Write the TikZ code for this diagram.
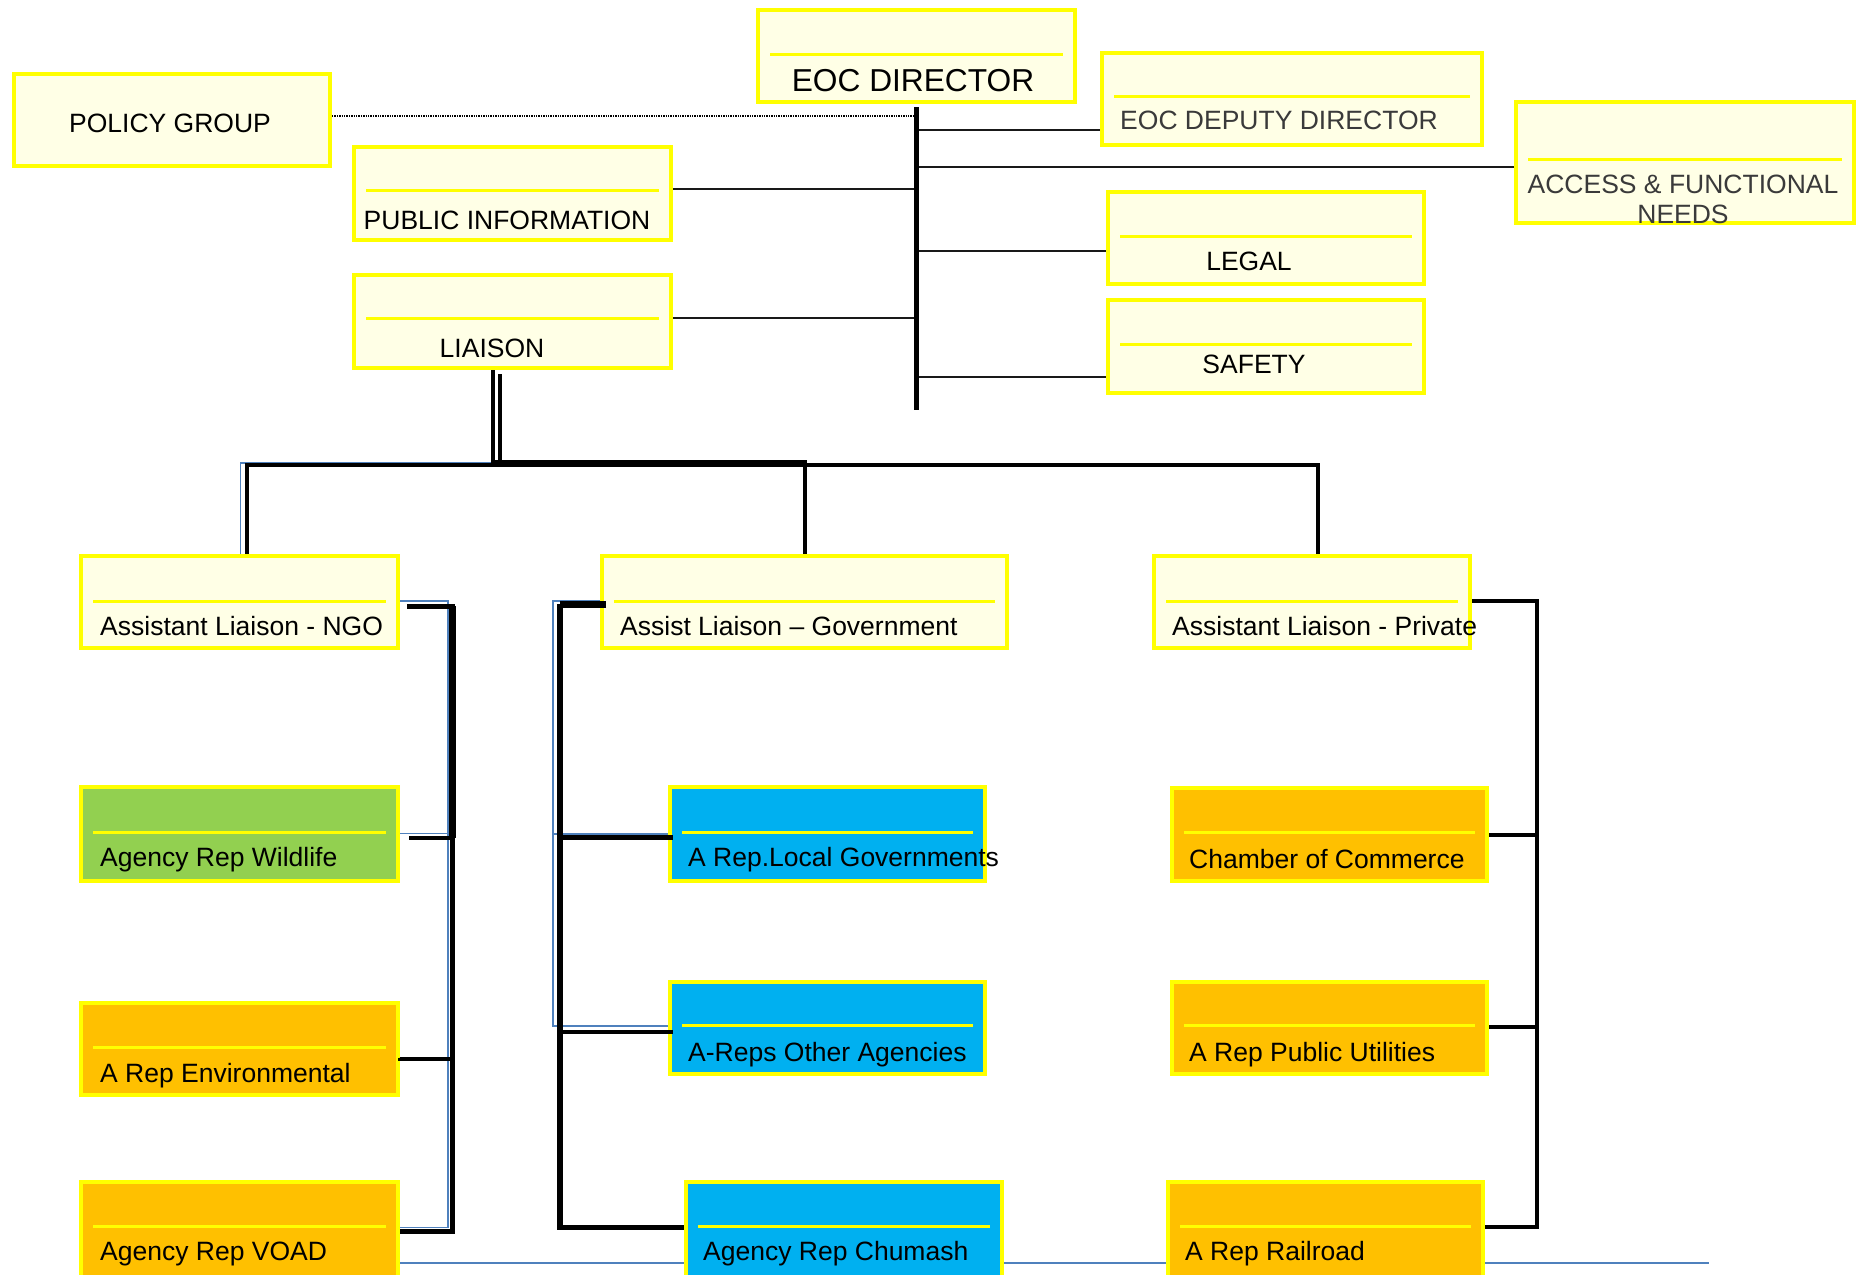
\documentclass[tikz,border=0pt]{standalone}
\usepackage{fontspec}
\setmainfont{Liberation Sans}
\usetikzlibrary{fit}
\definecolor{boxfill}{HTML}{FFFFE6}
\definecolor{ybord}{HTML}{FFFF00}
\definecolor{grn}{HTML}{92D050}
\definecolor{org}{HTML}{FFC000}
\definecolor{blu}{HTML}{00B0F0}
\definecolor{lnblue}{HTML}{4F81BD}
\definecolor{dgray}{HTML}{3A3A3A}
\tikzset{
  boxst/.style={rectangle, draw=ybord, line width=4pt, fill=boxfill, inner sep=0pt},
  yline/.style={draw=ybord, line width=3pt},
  lbl/.style={anchor=base west, inner sep=0pt, font=\fontsize{26.5}{30}\selectfont},
  clbl/.style={lbl, anchor=base},
  conn/.style={draw=black!90, line width=2.5pt},
  bconn/.style={draw=lnblue, line width=1.8pt},
  dotln/.style={draw=black, line width=1.3pt, dash pattern=on 1.3pt off 1.1pt},
}
\newcommand\obox[6]{\node[boxst, fill=#6, fit={(#2+2,#3+2) (#4-2,#5-2)}] (#1) {};}
\newcommand\iline[2]{\draw[yline] ([xshift=14pt,yshift=-#2pt]#1.north west) -- ([xshift=-14pt,yshift=-#2pt]#1.north east);}
\begin{document}
\begin{tikzpicture}[x=1pt,y=-1pt]
\useasboundingbox (0,0) rectangle (1860,1274);

\coordinate (bend) at (1709,1263);

% ---------- boxes ----------
\obox{pg}{12}{72}{332}{168}{boxfill}
\obox{eoc}{756}{8}{1077}{104}{boxfill}
\obox{dep}{1100}{51}{1484}{147}{boxfill}
\obox{afn}{1514}{100}{1856}{225}{boxfill}
\obox{pub}{352}{145}{673}{242}{boxfill}
\obox{lia}{352}{273}{673}{370}{boxfill}
\obox{leg}{1106}{190}{1426}{286}{boxfill}
\obox{saf}{1106}{298}{1426}{395}{boxfill}
\obox{ngo}{79}{554}{400}{650}{boxfill}
\obox{gov}{600}{554}{1009}{650}{boxfill}
\obox{pri}{1152}{554}{1472}{650}{boxfill}
\obox{wil}{79}{785}{400}{883}{grn}
\obox{env}{79}{1001}{400}{1097}{org}
\obox{loc}{668}{785}{987}{883}{blu}
\obox{oth}{668}{980}{987}{1076}{blu}
\obox{com}{1170}{786}{1489}{883}{org}
\obox{pu}{1170}{980}{1489}{1076}{org}

% bottom blue line (behind the lowest boxes)
\draw[bconn] (env.east |- bend) -- (bend);
\obox{voad}{79}{1180}{400}{1290}{org}
\obox{chu}{684}{1180}{1004}{1290}{blu}
\obox{rr}{1166}{1180}{1485}{1290}{org}

% inner yellow lines
\iline{eoc}{46}
\iline{dep}{45}
\iline{afn}{59}
\iline{pub}{45}
\iline{lia}{45}
\iline{leg}{46}
\iline{saf}{46}
\iline{ngo}{47}
\iline{gov}{47}
\iline{pri}{47}
\iline{wil}{47}
\iline{env}{46}
\iline{voad}{46}
\iline{loc}{47}
\iline{oth}{45}
\iline{chu}{46}
\iline{com}{46}
\iline{pu}{45}
\iline{rr}{46}

% ---------- top connectors ----------
\coordinate (barb) at (916.5,410);
\draw[dotln] (pg.east |- 0,116) -- (eoc.south |- 0,116);
\draw[conn] (eoc.south |- 0,130) -- (dep.west |- 0,130);
\draw[conn] (eoc.south |- 0,167) -- (afn.west |- 0,167);
\draw[conn] (pub.east |- 0,189) -- (eoc.south |- 0,189);
\draw[conn] (eoc.south |- 0,251) -- (leg.west |- 0,251);
\draw[conn] (lia.east |- 0,318) -- (eoc.south |- 0,318);
\draw[conn] (eoc.south |- 0,377) -- (saf.west |- 0,377);
\draw[black, line width=5pt] (eoc.south |- 0,107) -- (barb);

% ---------- liaison branch ----------
\coordinate (hubL) at (247,465);
\coordinate (hubM) at (805,465);
\coordinate (hubR) at (1318,465);
\coordinate (bL) at (240.5,463);
\draw[bconn] (ngo.north -| bL) -- (bL) -- (bL -| 493,0);
\draw[black, line width=4.3pt] (ngo.north -| hubL) -- (hubL) -- (hubR) -- (pri.north -| hubR);
\draw[black, line width=4.7pt] (hubM) -- (gov.north -| hubM);
\draw[black, line width=6.5pt] (hubL -| 491,0) ++(0,-1.3) -- ++(316,0);
\draw[black, line width=4.4pt] (lia.south -| 493,0) ++(0,0) -- (hubL -| 493,0);
\draw[black, line width=4.6pt] (lia.south -| 500,0) ++(0,4) -- (hubL -| 500,0);

% ---------- left column ----------
\coordinate (vLt) at (452.5,606);
\coordinate (vLb) at (452.5,1231.5);
\coordinate (bLx) at (448,601);
\draw[bconn] (ngo.east |- bLx) -- (bLx) -- (bLx |- 0,1227.5) -- (voad.east |- 0,1227.5);
\draw[bconn] (wil.east |- 0,833.5) -- (bLx |- 0,833.5);
\draw[black, line width=5pt, shorten <=7pt] (ngo.east |- vLt) -- (vLt) -- (vLb) -- (voad.east |- vLb);
\draw[black, line width=6.5pt] (vLt) -- (vLt |- 0,838);
\draw[black, line width=4.3pt, shorten <=9pt] (wil.east |- 0,838) -- (vLt |- 0,838);
\draw[black, line width=4pt, shorten <=5pt] (env.east |- 0,1053) -- ++(0,5.5) -- (vLt |- 0,1058.5);

% ---------- middle column ----------
\coordinate (vMt) at (560,604);
\coordinate (vMb) at (560,1227.5);
\coordinate (bMx) at (553,601);
\draw[bconn] (gov.west |- bMx) -- (bMx) -- (bMx |- 0,1026) -- (oth.west |- 0,1026);
\draw[bconn] (bMx |- 0,834) -- (loc.west |- 0,834);
\draw[black, line width=7pt, shorten <=-6pt] (gov.west |- vMt) -- (vMt);
\draw[black, line width=5.5pt] (vMt) -- (vMb) -- (chu.west |- vMb);
\draw[black, line width=5pt, shorten >=-5pt] (vMt |- 0,837.5) -- (loc.west |- 0,837.5);
\draw[black, line width=4.5pt, shorten >=-5pt] (vMt |- 0,1032) -- (oth.west |- 0,1032);

% ---------- right column ----------
\coordinate (vRt) at (1537,601);
\coordinate (vRb) at (1537,1227);
\draw[black, line width=3.8pt] (pri.east |- vRt) -- (vRt) -- (vRb) -- (rr.east |- vRb);
\draw[black, line width=3.8pt] (com.east |- 0,835) -- (vRt |- 0,835);
\draw[black, line width=3.8pt] (pu.east |- 0,1027) -- (vRt |- 0,1027);

% ---------- texts ----------
\node[clbl] (tpg) at (170,132) {POLICY GROUP};
\node[clbl, font=\fontsize{31.7}{36}\selectfont] (teoc) at (913,91) {EOC DIRECTOR};
\node[lbl, text=dgray] (tdep) at (1120,129) {EOC DEPUTY DIRECTOR};
\node[clbl, text=dgray] (tafn1) at (1683,193) {ACCESS \& FUNCTIONAL};
\node[clbl, text=dgray] (tafn2) at (1683,223) {NEEDS};
\node[clbl] (tpub) at (507,229) {PUBLIC INFORMATION};
\node[clbl] (tlia) at (492,357) {LIAISON};
\node[clbl] (tleg) at (1249,270) {LEGAL};
\node[clbl] (tsaf) at (1254,373) {SAFETY};
\node[lbl] (tngo) at (100,635) {Assistant Liaison - NGO};
\node[lbl] (tgov) at (620,635) {Assist Liaison – Government};
\node[lbl] (tpri) at (1172,635) {Assistant Liaison - Private};
\node[lbl] (twil) at (100,866) {Agency Rep Wildlife};
\node[lbl] (tenv) at (100,1082) {A Rep Environmental};
\node[lbl] (tvoad) at (100,1260) {Agency Rep VOAD};
\node[lbl] (tloc) at (688,866) {A Rep.Local Governments};
\node[lbl] (toth) at (688,1061) {A-Reps Other Agencies};
\node[lbl] (tchu) at (703,1260) {Agency Rep Chumash};
\node[lbl] (tcom) at (1189,868) {Chamber of Commerce};
\node[lbl] (tpu) at (1189,1061) {A Rep Public Utilities};
\node[lbl] (trr) at (1185,1260) {A Rep Railroad};
\end{tikzpicture}
\end{document}
